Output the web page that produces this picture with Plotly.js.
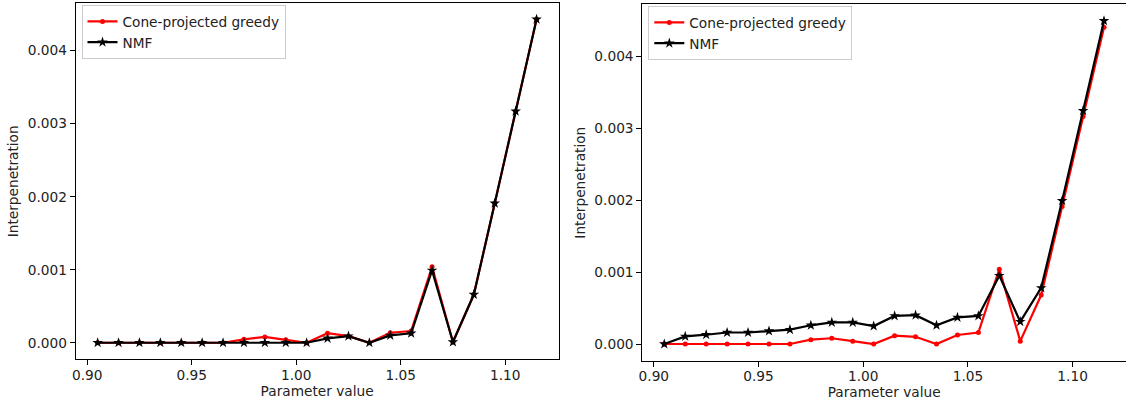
<!DOCTYPE html>
<html>
<head>
<meta charset="utf-8">
<script src="https://cdn.plot.ly/plotly-3.0.1.min.js"></script>
<style>html,body{margin:0;padding:0;background:#fff;}#chart{width:1126px;height:410px;}</style>
</head>
<body>
<div id="chart"></div>
<script>
// Parameter values (x)
const paramValues = [0.905, 0.915, 0.925, 0.935, 0.945, 0.955, 0.965, 0.975, 0.985, 0.995, 1.005,
                     1.015, 1.025, 1.035, 1.045, 1.055, 1.065, 1.075, 1.085, 1.095, 1.105, 1.115];

// Left panel
const leftGreedy = [0, 0, 0, 0, 0, 0, 0, 0.000046, 0.00008, 0.00004, 0,
                    0.00013, 0.00009, 0, 0.000137, 0.00016, 0.00104, 0.00001, 0.00066, 0.00191, 0.00317, 0.00443];
const leftNMF    = [0, 0, 0, 0, 0, 0, 0, 0, 0, 0, 0,
                    0.00006, 0.00009, 0, 0.0001, 0.00013, 0.00099, 0.00001, 0.00066, 0.00191, 0.00317, 0.00443];

// Right panel
const rightGreedy = [0, 0, 0, 0, 0, 0, 0, 0.00006, 0.00008, 0.00004, 0,
                     0.000115, 0.0001, 0, 0.000125, 0.00016, 0.00104, 0.00004, 0.00068, 0.00191, 0.00316, 0.0044];
const rightNMF    = [0, 0.000106, 0.000129, 0.00016, 0.00016, 0.00018, 0.0002, 0.00026, 0.0003, 0.0003, 0.00025,
                     0.00039, 0.0004, 0.00026, 0.00037, 0.00039, 0.00095, 0.00031, 0.00078, 0.00199, 0.00324, 0.00449];

const seriesNames = ["Cone-projected greedy", "NMF"];
const xTicks = [0.90, 0.95, 1.00, 1.05, 1.10];
const xTickText = ["0.90", "0.95", "1.00", "1.05", "1.10"];
const yTicks = [0, 0.001, 0.002, 0.003, 0.004];
const yTickText = ["0.000", "0.001", "0.002", "0.003", "0.004"];

const FONT = "DejaVu Sans, sans-serif";
const FS = 13.7;

function greedyTrace(y, xa, ya, lg) {
  return {x: paramValues, y: y, xaxis: xa, yaxis: ya, legend: lg, name: seriesNames[0],
          type: "scatter", mode: "lines+markers",
          line: {color: "#ff0000", width: 2.2},
          marker: {color: "#ff0000", symbol: "circle", size: 5}};
}
function nmfTrace(y, xa, ya, lg) {
  return {x: paramValues, y: y, xaxis: xa, yaxis: ya, legend: lg, name: seriesNames[1],
          type: "scatter", mode: "lines+markers",
          line: {color: "#000000", width: 2.2},
          marker: {color: "#000000", symbol: "star", size: 8}};
}

const data = [
  greedyTrace(leftGreedy, "x", "y", "legend"),
  nmfTrace(leftNMF, "x", "y", "legend"),
  greedyTrace(rightGreedy, "x2", "y2", "legend2"),
  nmfTrace(rightNMF, "x2", "y2", "legend2")
];

function xAxis(domain, anchor) {
  return {domain: domain, anchor: anchor, range: [0.8945, 1.1255],
          tickmode: "array", tickvals: xTicks, ticktext: xTickText,
          ticks: "outside", ticklen: 5, tickwidth: 1, tickcolor: "#000",
          ticklabelstandoff: -2,
          showline: true, linecolor: "#000", linewidth: 1, mirror: true,
          showgrid: false, zeroline: false, automargin: false,
          tickfont: {family: FONT, size: FS, color: "#222"},
          title: {text: "Parameter value", font: {family: FONT, size: FS, color: "#222"}, standoff: 3}};
}
function yAxis(domain, anchor, range) {
  return {domain: domain, anchor: anchor, range: range,
          tickmode: "array", tickvals: yTicks, ticktext: yTickText,
          ticks: "outside", ticklen: 5, tickwidth: 1, tickcolor: "#000",
          showline: true, linecolor: "#000", linewidth: 1, mirror: true,
          showgrid: false, zeroline: false, automargin: false,
          tickfont: {family: FONT, size: FS, color: "#222"},
          title: {text: "Interpenetration", font: {family: FONT, size: FS, color: "#222"}, standoff: 5}};
}

function legendAt(xpx, ypx) {
  return {x: xpx / 1126, y: 1 - ypx / 410, xanchor: "left", yanchor: "top",
          bgcolor: "rgba(255,255,255,0.8)", bordercolor: "#cccccc", borderwidth: 1,
          font: {family: FONT, size: FS, color: "#222"}, tracegroupgap: 0};
}

const layout = {
  width: 1126, height: 410,
  margin: {l: 0, r: 0, t: 0, b: 0},
  paper_bgcolor: "#ffffff", plot_bgcolor: "#ffffff",
  showlegend: true,
  xaxis: xAxis([75.7 / 1126, 558.5 / 1126], "y"),
  yaxis: yAxis([(410 - 359.3) / 410, (410 - 3.3) / 410], "x", [-0.000227, 0.004649]),
  xaxis2: xAxis([642.3 / 1126, 1.0], "y2"),
  yaxis2: yAxis([(410 - 361) / 410, (410 - 4.3) / 410], "x2", [-0.000236, 0.004719]),
  legend: legendAt(81.5, 5),
  legend2: legendAt(648.3, 6)
};

Plotly.newPlot("chart", data, layout, {displayModeBar: false, staticPlot: true});
</script>
</body>
</html>
